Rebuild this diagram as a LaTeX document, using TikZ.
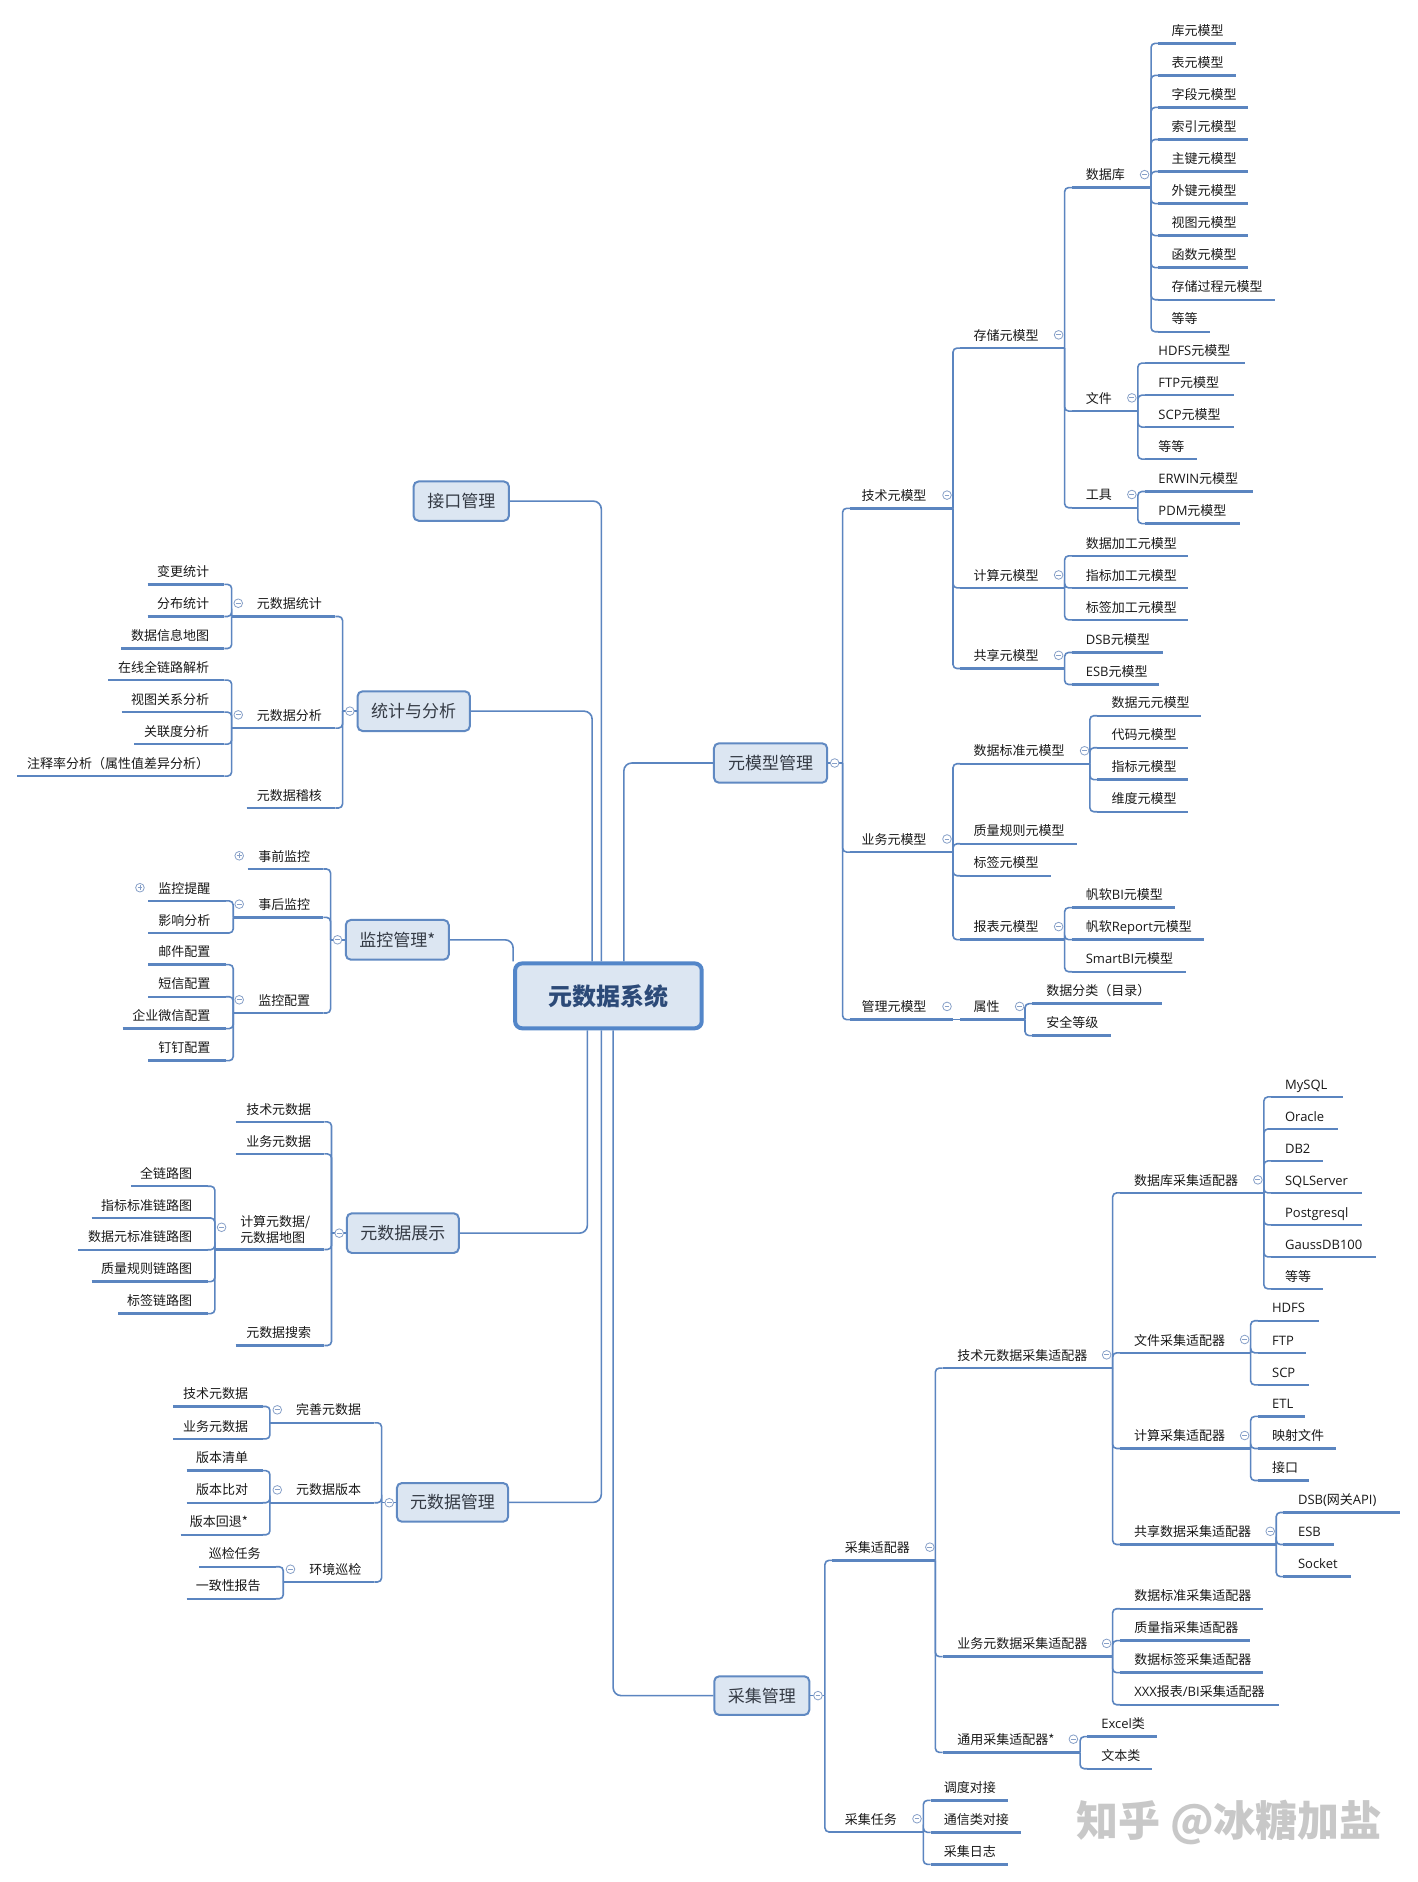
\documentclass[tikz,border=0pt]{standalone}
\usepackage{fontspec}
\setmainfont{Noto Sans CJK SC}
\newfontfamily\latf{Open Sans}
\newcommand{\LAT}[1]{{\latf #1}}
\definecolor{lineblue}{RGB}{91,133,192}
\definecolor{boxfill}{RGB}{220,230,242}
\definecolor{boxborder}{RGB}{96,137,194}
\definecolor{rootborder}{RGB}{83,134,201}
\definecolor{roottext}{RGB}{44,74,120}
\definecolor{topictext}{RGB}{52,58,68}
\definecolor{leaftext}{RGB}{25,25,25}
\definecolor{iconcol}{RGB}{135,160,200}
\definecolor{wmark}{RGB}{200,200,200}
\tikzset{
 conn/.style={draw=lineblue, line width=1.6pt, rounded corners=4pt},
 uline/.style={draw=lineblue, line width=2.4pt},
 leaf/.style={inner sep=0pt, font=\fontsize{13}{16.8}\selectfont, text=leaftext},
 topic/.style={draw=boxborder, line width=2pt, fill=boxfill, rounded corners=5pt, font=\fontsize{17}{20}\selectfont, text=topictext, inner sep=0pt},
 rootbox/.style={draw=rootborder, line width=4pt, fill=boxfill, rounded corners=7pt, font=\fontsize{24}{28}\selectfont\bfseries, text=roottext, inner sep=0pt},
}
% right-side topic: name, x0, x1, underline y, text left x, text
\newcommand{\mmW}[6]{%
 \coordinate (#1-l) at (#2,#4);
 \coordinate (#1-r) at (#3,#4);
 \node[leaf, anchor=base west] (#1) at (#5,#4-6.5) {#6};
 \draw[uline] (#1-l) -- (#1-r);}
% left-side topic: name, x0, x1, underline y, text right x, text
\newcommand{\mmE}[6]{%
 \coordinate (#1-l) at (#2,#4);
 \coordinate (#1-r) at (#3,#4);
 \node[leaf, anchor=base east] (#1) at (#5,#4-6.5) {#6};
 \draw[uline] (#1-l) -- (#1-r);}
\newcommand{\icM}[2]{\draw[iconcol, fill=white, line width=0.8pt] (#1,#2) circle[radius=3.6]; \draw[iconcol, line width=0.8pt] (#1-2,#2) -- (#1+2,#2);}
\newcommand{\icP}[2]{\draw[iconcol, fill=white, line width=0.8pt] (#1,#2) circle[radius=3.6]; \draw[iconcol, line width=0.8pt] (#1-2,#2) -- (#1+2,#2) (#1,#2-2) -- (#1,#2+2);}
\begin{document}
\begin{tikzpicture}[x=1.2007pt, y=-1.2007pt]
\fill[white] (0,0) rectangle (1181,1568);
\useasboundingbox (0,0) rectangle (1181,1568);

% ---------- main boxes ----------
\node[rootbox, minimum width=186.7pt, minimum height=64.9pt] (root) at (506.9,829.7) {元数据系统};
\node[topic, minimum width=95.4pt, minimum height=39.3pt] (jiekou) at (384.3,417.5) {接口管理};
\node[topic, minimum width=112.4pt, minimum height=39.7pt] (tongji) at (344.7,592.5) {统计与分析};
\node[topic, minimum width=103pt, minimum height=39.7pt] (jiankong) at (331,783) {监控管理*};
\node[topic, minimum width=112pt, minimum height=39.7pt] (zhanshi) at (335.6,1027.4) {元数据展示};
\node[topic, minimum width=111.3pt, minimum height=38.7pt] (guanli) at (377,1251.7) {元数据管理};
\node[topic, minimum width=113.3pt, minimum height=39.4pt] (moxing) at (642,635.7) {元模型管理};
\node[topic, minimum width=95.1pt, minimum height=38.7pt] (caiji) at (634.7,1412.7) {采集管理};

% root connectors
\draw[conn, rounded corners=8pt] ([xshift=-7.1pt]root.north) |- (jiekou.east);
\draw[conn, rounded corners=8pt] ([xshift=-16.3pt]root.north) |- (tongji.east);
\draw[conn, rounded corners=8pt] ([xshift=15.4pt]root.north) |- (moxing.west);
\draw[conn, rounded corners=8pt] (jiankong.east) -| (root.north west);
\draw[conn, rounded corners=8pt] ([xshift=-21pt]root.south) |- (zhanshi.east);
\draw[conn, rounded corners=8pt] ([xshift=-7.1pt]root.south) |- (guanli.east);
\draw[conn, rounded corners=8pt] ([xshift=4.7pt]root.south) |- (caiji.west);

% ---------- 元模型管理 ----------
\coordinate (moxing-v) at (702,635.7);
\mmW{jsmx}{708}{794}{423.5}{717.6}{技术元模型}
\mmW{ywmx}{708}{794}{709.9}{717.6}{业务元模型}
\mmW{glmx}{708}{794}{849.5}{717.6}{管理元模型}
\mmW{ccmx}{800}{887}{290}{811}{存储元模型}
\mmW{jsmx2}{800}{887}{489.8}{811}{计算元模型}
\mmW{gxmx}{800}{887}{557}{811}{共享元模型}
\mmW{sjk}{893}{959}{156.3}{904.5}{数据库}
\mmW{wj}{893}{948}{342.5}{904.5}{文件}
\mmW{gj}{893}{948}{423}{904.5}{工具}
\mmW{k1}{965}{1030}{36.1}{976}{库元模型}
\mmW{k2}{965}{1030}{62.8}{976}{表元模型}
\mmW{k3}{965}{1040}{89.5}{976}{字段元模型}
\mmW{k4}{965}{1040}{116.2}{976}{索引元模型}
\mmW{k5}{965}{1040}{142.9}{976}{主键元模型}
\mmW{k6}{965}{1040}{169.6}{976}{外键元模型}
\mmW{k7}{965}{1040}{196.3}{976}{视图元模型}
\mmW{k8}{965}{1040}{223}{976}{函数元模型}
\mmW{k9}{965}{1062}{249.7}{976}{存储过程元模型}
\mmW{k10}{965}{1008}{276.4}{976}{等等}
\mmW{f1}{954}{1037}{302.5}{965}{\LAT{HDFS}元模型}
\mmW{f2}{954}{1028}{329.2}{965}{\LAT{FTP}元模型}
\mmW{f3}{954}{1028}{355.8}{965}{\LAT{SCP}元模型}
\mmW{f4}{954}{997}{382.5}{965}{等等}
\mmW{t1}{954}{1044}{409.5}{965}{\LAT{ERWIN}元模型}
\mmW{t2}{954}{1033}{436.2}{965}{\LAT{PDM}元模型}
\mmW{c1}{893}{990}{463.1}{904.5}{数据加工元模型}
\mmW{c2}{893}{990}{489.8}{904.5}{指标加工元模型}
\mmW{c3}{893}{990}{516.5}{904.5}{标签加工元模型}
\mmW{g1}{893}{968.6}{543.6}{904.5}{\LAT{DSB}元模型}
\mmW{g2}{893}{966}{570.3}{904.5}{\LAT{ESB}元模型}
\mmW{bz}{800}{908}{636.3}{811}{数据标准元模型}
\mmW{zl}{800}{897}{703}{811}{质量规则元模型}
\mmW{bq}{800}{876}{729.6}{811}{标签元模型}
\mmW{bb}{800}{887}{782.9}{811}{报表元模型}
\mmW{b1}{914}{1001}{596.3}{926}{数据元元模型}
\mmW{b2}{914}{990}{623}{926}{代码元模型}
\mmW{b3}{914}{990}{649.6}{926}{指标元模型}
\mmW{b4}{914}{990}{676.3}{926}{维度元模型}
\mmW{r1}{893}{978.6}{756.2}{904.5}{帆软\LAT{BI}元模型}
\mmW{r2}{893}{1003}{782.9}{904.5}{帆软\LAT{Report}元模型}
\mmW{r3}{893}{988}{809.6}{904.5}{\LAT{SmartBI}元模型}
\mmW{sx}{800}{854}{849.5}{811}{属性}
\mmW{s1}{860}{968.3}{836.2}{871.7}{数据分类（目录）}
\mmW{s2}{860}{925.3}{862.8}{871.7}{安全等级}

\draw[conn] (moxing.east) -- (moxing-v);
\foreach \nn in {jsmx,ywmx,glmx} \draw[conn] (moxing-v) |- (\nn-l);
\foreach \nn in {ccmx,jsmx2,gxmx} \draw[conn] (jsmx-r) |- (\nn-l);
\foreach \nn in {sjk,wj,gj} \draw[conn] (ccmx-r) |- (\nn-l);
\foreach \i in {1,...,10} \draw[conn] (sjk-r) |- (k\i-l);
\foreach \i in {1,...,4} \draw[conn] (wj-r) |- (f\i-l);
\foreach \i in {1,2} \draw[conn] (gj-r) |- (t\i-l);
\foreach \i in {1,2,3} \draw[conn] (jsmx2-r) |- (c\i-l);
\foreach \i in {1,2} \draw[conn] (gxmx-r) |- (g\i-l);
\foreach \nn in {bz,zl,bq,bb} \draw[conn] (ywmx-r) |- (\nn-l);
\foreach \i in {1,...,4} \draw[conn] (bz-r) |- (b\i-l);
\foreach \i in {1,2,3} \draw[conn] (bb-r) |- (r\i-l);
\draw[conn] (glmx-r) -- (sx-l);
\foreach \i in {1,2} \draw[conn] (sx-r) |- (s\i-l);

% ---------- 采集管理 ----------
\coordinate (caiji-v) at (687.3,1412.7);
\mmW{cjsp}{693.3}{779.3}{1300}{703.7}{采集适配器}
\mmW{cjrw}{693.3}{769.3}{1526.3}{703.7}{采集任务}
\mmW{jscj}{785.3}{927}{1139.8}{797.5}{技术元数据采集适配器}
\mmW{ywcj}{785.3}{927}{1380.2}{797.5}{业务元数据采集适配器}
\mmW{tycj}{785.3}{899.9}{1460}{797.5}{通用采集适配器*}
\mmW{dbcj}{933}{1053}{993.9}{944.7}{数据库采集适配器}
\mmW{fcj}{933}{1042}{1127.1}{944.7}{文件采集适配器}
\mmW{ccj}{933}{1042}{1206.8}{944.7}{计算采集适配器}
\mmW{scj}{933}{1063.3}{1286.8}{944.7}{共享数据采集适配器}
\mmW{d1}{1059}{1118.8}{913.9}{1070.5}{\LAT{MySQL}}
\mmW{d2}{1059}{1114.6}{940.6}{1070.5}{\LAT{Oracle}}
\mmW{d3}{1059}{1102}{967.2}{1070.5}{\LAT{DB2}}
\mmW{d4}{1059}{1134.6}{993.9}{1070.5}{\LAT{SQLServer}}
\mmW{d5}{1059}{1134.6}{1020.5}{1070.5}{\LAT{Postgresql}}
\mmW{d6}{1059}{1146.6}{1047.2}{1070.5}{\LAT{GaussDB100}}
\mmW{d7}{1059}{1102}{1073.8}{1070.5}{等等}
\mmW{h1}{1048}{1098.8}{1100.4}{1059.7}{\LAT{HDFS}}
\mmW{h2}{1048}{1087.7}{1127.1}{1059.7}{\LAT{FTP}}
\mmW{h3}{1048}{1090.5}{1153.8}{1059.7}{\LAT{SCP}}
\mmW{e1}{1048}{1086.9}{1180.1}{1059.7}{\LAT{ETL}}
\mmW{e2}{1048}{1113.2}{1206.8}{1059.7}{映射文件}
\mmW{e3}{1048}{1091}{1233.5}{1059.7}{接口}
\mmW{x1}{1069.3}{1166}{1260.1}{1081.3}{\LAT{DSB(}网关\LAT{API)}}
\mmW{x2}{1069.3}{1111.3}{1286.8}{1081.3}{\LAT{ESB}}
\mmW{x3}{1069.3}{1125.7}{1313.5}{1081.3}{\LAT{Socket}}
\mmW{y1}{933}{1052}{1340.3}{945}{数据标准采集适配器}
\mmW{y2}{933}{1041.2}{1366.9}{945}{质量指采集适配器}
\mmW{y3}{933}{1052}{1393.6}{945}{数据标签采集适配器}
\mmW{y4}{933}{1065.7}{1420.3}{945}{\LAT{XXX}报表\LAT{/BI}采集适配器}
\mmW{u1}{906}{964}{1446.9}{917.4}{\LAT{Excel}类}
\mmW{u2}{906}{960}{1473.6}{917.4}{文本类}
\mmW{w1}{775.3}{839.5}{1500}{786.2}{调度对接}
\mmW{w2}{775.3}{850.3}{1526.6}{786.2}{通信类对接}
\mmW{w3}{775.3}{839.5}{1553.3}{786.2}{采集日志}

\draw[conn] (caiji.east) -- (caiji-v);
\foreach \nn in {cjsp,cjrw} \draw[conn] (caiji-v) |- (\nn-l);
\foreach \nn in {jscj,ywcj,tycj} \draw[conn] (cjsp-r) |- (\nn-l);
\foreach \nn in {dbcj,fcj,ccj,scj} \draw[conn] (jscj-r) |- (\nn-l);
\foreach \i in {1,...,7} \draw[conn] (dbcj-r) |- (d\i-l);
\foreach \i in {1,2,3} \draw[conn] (fcj-r) |- (h\i-l);
\foreach \i in {1,2,3} \draw[conn] (ccj-r) |- (e\i-l);
\foreach \i in {1,2,3} \draw[conn] (scj-r) |- (x\i-l);
\foreach \i in {1,...,4} \draw[conn] (ywcj-r) |- (y\i-l);
\foreach \i in {1,2} \draw[conn] (tycj-r) |- (u\i-l);
\foreach \i in {1,2,3} \draw[conn] (cjrw-r) |- (w\i-l);

% ---------- 统计与分析 ----------
\coordinate (tongji-v) at (285.4,592.5);
\mmW{sjtj}{193}{279.4}{513.6}{213.8}{元数据统计}
\mmW{sjfx}{193}{279.4}{606.6}{213.8}{元数据分析}
\mmW{sjjh}{205.5}{279.4}{673.2}{213.8}{元数据稽核}
\mmE{a1}{123}{187}{486.9}{174.3}{变更统计}
\mmE{a2}{123}{187}{513.6}{174.3}{分布统计}
\mmE{a3}{101}{187}{540.3}{174.3}{数据信息地图}
\mmE{a4}{90.2}{187}{566.6}{174.3}{在线全链路解析}
\mmE{a5}{101.4}{187}{593.3}{174.3}{视图关系分析}
\mmE{a6}{111.9}{187}{620}{174.3}{关联度分析}
\mmE{a7}{14.4}{187}{646.6}{174.3}{注释率分析（属性值差异分析）}
\draw[conn] (tongji.west) -- (tongji-v);
\foreach \nn in {sjtj,sjfx,sjjh} \draw[conn] (tongji-v) |- (\nn-r);
\foreach \i in {1,2,3} \draw[conn] (sjtj-l) |- (a\i-r);
\foreach \i in {4,...,7} \draw[conn] (sjfx-l) |- (a\i-r);

% ---------- 监控管理 ----------
\coordinate (jiankong-v) at (275.4,783);
\mmW{sqjk}{206.3}{269.4}{724}{215}{事前监控}
\mmW{shjk}{194.3}{269.4}{764.3}{215}{事后监控}
\mmW{jkpz}{194.3}{269.4}{844}{215}{监控配置}
\mmE{m1}{123.5}{188.3}{750.6}{175.5}{监控提醒}
\mmE{m2}{123.5}{188.3}{777.3}{175.5}{影响分析}
\mmE{p1}{123.5}{188.3}{803.7}{175.5}{邮件配置}
\mmE{p2}{123.5}{188.3}{830.4}{175.5}{短信配置}
\mmE{p3}{102.2}{188.3}{857}{175.5}{企业微信配置}
\mmE{p4}{123.5}{188.3}{883.7}{175.5}{钉钉配置}
\draw[conn] (jiankong.west) -- (jiankong-v);
\foreach \nn in {sqjk,shjk,jkpz} \draw[conn] (jiankong-v) |- (\nn-r);
\foreach \i in {1,2} \draw[conn] (shjk-l) |- (m\i-r);
\foreach \i in {1,...,4} \draw[conn] (jkpz-l) |- (p\i-r);

% ---------- 元数据展示 ----------
\coordinate (zhanshi-v) at (276.2,1027.4);
\mmW{zs1}{196.3}{270.2}{934.7}{205}{技术元数据}
\mmW{zs2}{196.3}{270.2}{961.4}{205}{业务元数据}
\coordinate (zs3-l) at (179,1041);
\coordinate (zs3-r) at (270.2,1041);
\node[leaf, anchor=south west, align=left] (zs3) at (200,1036.5) {计算元数据/\\元数据地图};
\draw[uline] (zs3-l) -- (zs3-r);
\mmW{zs4}{196.3}{270.2}{1121}{205}{元数据搜索}
\mmE{q1}{109.1}{173}{988.3}{160.2}{全链路图}
\mmE{q2}{76.3}{173}{1014.8}{160.2}{指标标准链路图}
\mmE{q3}{65.2}{173}{1041.2}{160.2}{数据元标准链路图}
\mmE{q4}{76.3}{173}{1067.8}{160.2}{质量规则链路图}
\mmE{q5}{98.6}{173}{1094.4}{160.2}{标签链路图}
\draw[conn] (zhanshi.west) -- (zhanshi-v);
\foreach \nn in {zs1,zs2,zs3,zs4} \draw[conn] (zhanshi-v) |- (\nn-r);
\foreach \i in {1,...,5} \draw[conn] (zs3-l) |- (q\i-r);

% ---------- 元数据管理 ----------
\coordinate (guanli-v) at (317.9,1251.7);
\mmW{ws}{224.9}{311.9}{1185.4}{246.5}{完善元数据}
\mmW{bbn}{224.9}{311.9}{1252}{246.5}{元数据版本}
\mmW{hj}{236}{311.9}{1318}{257.6}{环境巡检}
\mmE{v1}{144.4}{218.9}{1171.8}{206.8}{技术元数据}
\mmE{v2}{144.4}{218.9}{1198.8}{206.8}{业务元数据}
\mmE{v3}{155.5}{218.9}{1225.3}{206.8}{版本清单}
\mmE{v4}{155.5}{218.9}{1252}{206.8}{版本比对}
\mmE{v5}{150.5}{218.9}{1278.7}{206.8}{版本回退*}
\mmE{v6}{166}{230}{1305.3}{217.4}{巡检任务}
\mmE{v7}{155.5}{230}{1332}{217.4}{一致性报告}
\draw[conn] (guanli.west) -- (guanli-v);
\foreach \nn in {ws,bbn,hj} \draw[conn] (guanli-v) |- (\nn-r);
\foreach \i in {1,2} \draw[conn] (ws-l) |- (v\i-r);
\foreach \i in {3,4,5} \draw[conn] (bbn-l) |- (v\i-r);
\foreach \i in {6,7} \draw[conn] (hj-l) |- (v\i-r);

% ---------- collapse icons ----------
\icM{695.4}{635.7} \icM{789}{412.5} \icM{789}{699} \icM{789}{838.5}
\icM{882}{279} \icM{882}{479} \icM{882}{546} \icM{953.6}{145.5}
\icM{943}{331.5} \icM{943}{412} \icM{903.6}{625.5} \icM{882}{772} \icM{849.5}{838.5}
\icM{681.5}{1412.7} \icM{774.7}{1289} \icM{764}{1515.3} \icM{922}{1128.8}
\icM{922}{1369.2} \icM{894.3}{1449} \icM{1048}{983} \icM{1037}{1116}
\icM{1037}{1196} \icM{1058.3}{1275.8}
\icM{291.5}{592.5} \icM{198.5}{502.6} \icM{198.5}{595.6}
\icM{281.2}{783} \icP{199.3}{713} \icM{199.3}{753.3} \icM{199.3}{833} \icP{116.6}{739.6}
\icM{282.6}{1027.4} \icM{184.6}{1022.5}
\icM{324.3}{1252} \icM{231}{1174.6} \icM{231}{1241.3} \icM{242}{1307.4}

% ---------- watermark ----------
\node[font=\fontsize{42}{46}\selectfont\bfseries, text=wmark, inner sep=0pt] (wm) at (1024,1518) {知乎 @冰糖加盐};
\end{tikzpicture}
\end{document}
